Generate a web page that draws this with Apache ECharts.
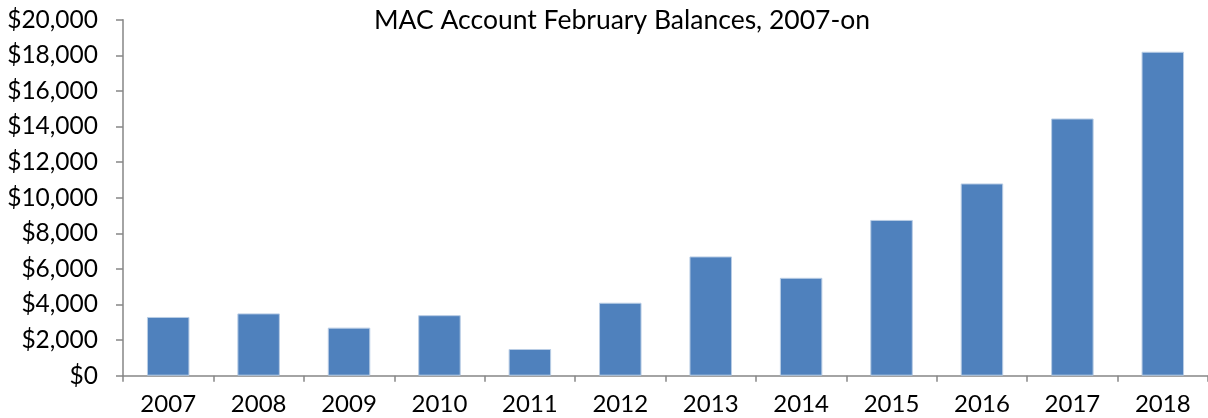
<!DOCTYPE html>
<html><head><meta charset="utf-8">
<script src="https://cdn.jsdelivr.net/npm/echarts@6/dist/echarts.min.js"></script>
<style>html,body{margin:0;padding:0;background:#fff}#c{width:1208px;height:418px}</style>
</head><body><div id="c"></div>
<script>
const categories = ['2007','2008','2009','2010','2011','2012','2013','2014','2015','2016','2017','2018'];
const balances = [3300, 3500, 2700, 3400, 1500, 4100, 6700, 5500, 8750, 10800, 14450, 18200];
const yTicks = [0, 2000, 4000, 6000, 8000, 10000, 12000, 14000, 16000, 18000, 20000];
const titleText = 'MAC Account February Balances, 2007-on';

const font = 'Lato, "Open Sans", sans-serif';
const chart = echarts.init(document.getElementById('c'));
chart.setOption({
  animation: false,
  title: { text: titleText, left: 617, top: 2, textAlign: 'center',
    textStyle: { fontFamily: font, fontSize: 26.5, fontWeight: 'normal', color: '#000' } },
  grid: { left: 123, right: 0, top: 19.7, bottom: 42.3, containLabel: false },
  xAxis: { type: 'category', data: categories,
    axisLine: { lineStyle: { color: '#868686', width: 1.5 } },
    axisTick: { show: true, length: 6, alignWithLabel: false, lineStyle: { color: '#868686', width: 1.5 } },
    axisLabel: { fontFamily: font, fontSize: 24, color: '#000', margin: 17 } },
  yAxis: { type: 'value', min: yTicks[0], max: yTicks[yTicks.length-1], interval: 2000,
    axisLine: { show: true, lineStyle: { color: '#868686', width: 1.5 } },
    axisTick: { show: true, length: 7, lineStyle: { color: '#868686', width: 1.5 } },
    splitLine: { show: false },
    axisLabel: { fontFamily: font, fontSize: 24.5, color: '#000', margin: 25,
      formatter: v => '$' + v.toLocaleString('en-US') } },
  series: [{ type: 'bar', data: balances, barWidth: '47%',
    itemStyle: { color: '#4F81BD', borderColor: '#B9CDE5', borderWidth: 1 } }]
});
</script></body></html>
